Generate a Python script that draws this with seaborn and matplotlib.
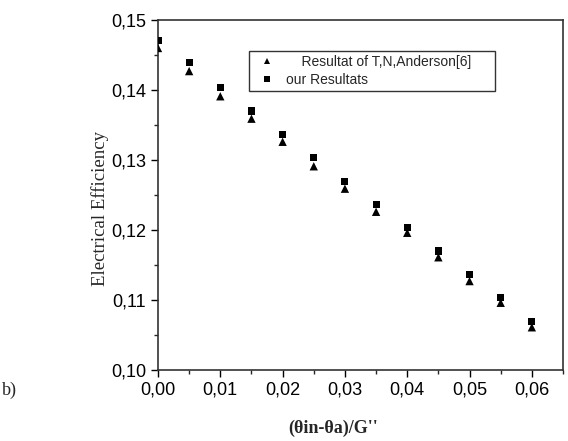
import matplotlib
matplotlib.use("Agg")
import matplotlib.pyplot as plt
import seaborn as sns
import pandas as pd
from matplotlib.ticker import FuncFormatter, MultipleLocator

x_vals = [0.0, 0.005, 0.01, 0.015, 0.02, 0.025, 0.03, 0.035, 0.04, 0.045, 0.05, 0.055, 0.06]
anderson = [0.1460, 0.1427, 0.1391, 0.1359, 0.1326, 0.1291, 0.1259, 0.1226, 0.1196, 0.1161, 0.1127, 0.1096, 0.1061]
ours = [0.1471, 0.1439, 0.1404, 0.1370, 0.1337, 0.1304, 0.1269, 0.1236, 0.1204, 0.1170, 0.1137, 0.1104, 0.1069]
series_names = ["Resultat of T,N,Anderson[6]", "our Resultats"]
x_ticks = [0.0, 0.01, 0.02, 0.03, 0.04, 0.05, 0.06]
y_ticks = [0.10, 0.11, 0.12, 0.13, 0.14, 0.15]

df = pd.DataFrame({
    "x": x_vals * 2,
    "y": anderson + ours,
    "series": [series_names[0]] * len(x_vals) + [series_names[1]] * len(x_vals),
})

sns.set_style("ticks")
plt.rcParams['font.family'] = ['Liberation Sans', 'DejaVu Sans']

W, H = 568, 441
fig = plt.figure(figsize=(W / 100, H / 100), dpi=100)
ax = fig.add_axes([158 / W, 1 - 370 / H, (563 - 158) / W, (370 - 20) / H])

sns.scatterplot(data=df, x="x", y="y", hue="series", style="series", size="series",
                markers={series_names[0]: "^", series_names[1]: "s"},
                palette={series_names[0]: "black", series_names[1]: "black"},
                sizes={series_names[0]: 36, series_names[1]: 26},
                edgecolor="none", linewidth=0, ax=ax, legend=True, zorder=3)

ax.set_xlim(0, 0.065)
ax.set_ylim(0.10, 0.15)
ax.set_xticks(x_ticks)
ax.set_yticks(y_ticks)
ax.xaxis.set_minor_locator(MultipleLocator(0.005))
ax.yaxis.set_minor_locator(MultipleLocator(0.005))
fmt = lambda v, p: f"{v:.2f}".replace(".", ",")
ax.xaxis.set_major_formatter(FuncFormatter(fmt))
ax.yaxis.set_major_formatter(FuncFormatter(fmt))
ax.tick_params(axis="both", which="major", direction="out", length=5, width=1, labelsize=13, colors="black")
ax.tick_params(axis="both", which="minor", direction="out", length=3, width=1)
ax.tick_params(top=False, right=False, which="both")
for sp in ax.spines.values():
    sp.set_visible(True)
    sp.set_linewidth(1.2)
    sp.set_color("#333333")

ax.set_xlabel("")
ax.set_ylabel("")
fig.text(333 / W, 1 - 428 / H, "(θin-θa)/G''", family=["Liberation Serif"], fontweight="bold",
         fontsize=13, ha="center", va="center")
fig.text(100 / W, 1 - 208 / H, "Electrical Efficiency", family=["Liberation Serif"], fontsize=13.5,
         rotation=90, ha="center", va="center")

handles, labels = ax.get_legend_handles_labels()
leg = ax.legend(handles, ["    " + series_names[0] + "     ", series_names[1]], loc="upper left",
                bbox_to_anchor=((249 - 158) / 405, (370 - 51) / 350), frameon=True, fancybox=False,
                edgecolor="black", fontsize=10, handletextpad=0.4, borderpad=0.3,
                labelspacing=0.25, handlelength=2.0, markerscale=0.8, borderaxespad=0)
leg.get_frame().set_linewidth(1.0)

fig.text(2 / W, 1 - 390 / H, "b)", family=["Liberation Serif"], fontsize=13, va="center", ha="left")

fig.savefig("out.png", dpi=100)
